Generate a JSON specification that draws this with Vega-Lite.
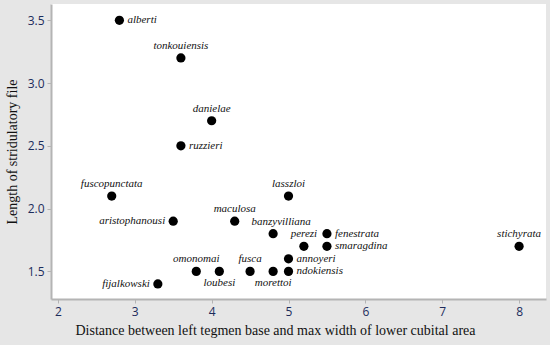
{
  "$schema": "https://vega.github.io/schema/vega-lite/v6.json",
  "width": 495,
  "height": 295,
  "autosize": "none",
  "padding": {"left": 51, "top": 4, "right": 4, "bottom": 46},
  "background": "#e6e6e6",
  "config": {
    "view": {"fill": "white", "stroke": null},
    "axis": {
      "grid": false,
      "domainColor": "#b4b4b4",
      "domainWidth": 2,
      "tickColor": "#b4b4b4",
      "tickSize": 4,
      "labelFont": "Open Sans",
      "labelFontSize": 12,
      "labelColor": "#1c2c5c",
      "titleFont": "Liberation Serif",
      "titleFontSize": 14,
      "titleFontWeight": "normal",
      "titleColor": "#111111"
    }
  },
  "data": {
    "values": [
      {"species": "alberti", "distance": 2.8, "length": 3.5},
      {"species": "tonkouiensis", "distance": 3.6, "length": 3.2},
      {"species": "danielae", "distance": 4.0, "length": 2.7},
      {"species": "ruzzieri", "distance": 3.6, "length": 2.5},
      {"species": "fuscopunctata", "distance": 2.7, "length": 2.1},
      {"species": "aristophanousi", "distance": 3.5, "length": 1.9},
      {"species": "maculosa", "distance": 4.3, "length": 1.9},
      {"species": "banzyvilliana", "distance": 4.8, "length": 1.8},
      {"species": "lasszloi", "distance": 5.0, "length": 2.1},
      {"species": "fenestrata", "distance": 5.5, "length": 1.8},
      {"species": "perezi", "distance": 5.2, "length": 1.7},
      {"species": "smaragdina", "distance": 5.5, "length": 1.7},
      {"species": "annoyeri", "distance": 5.0, "length": 1.6},
      {"species": "ndokiensis", "distance": 5.0, "length": 1.5},
      {"species": "morettoi", "distance": 4.8, "length": 1.5},
      {"species": "fusca", "distance": 4.5, "length": 1.5},
      {"species": "loubesi", "distance": 4.1, "length": 1.5},
      {"species": "omonomai", "distance": 3.8, "length": 1.5},
      {"species": "fijalkowski", "distance": 3.3, "length": 1.4},
      {"species": "stichyrata", "distance": 8.0, "length": 1.7}
    ]
  },
  "encoding": {
    "x": {
      "field": "distance",
      "type": "quantitative",
      "scale": {"domain": [1.91, 8.35], "nice": false, "zero": false},
      "axis": {"values": [2, 3, 4, 5, 6, 7, 8], "title": "Distance between left tegmen base and max width of lower cubital area", "titlePadding": 6, "labelPadding": 3, "titleX": 224, "titleAlign": "center", "titleAnchor": null}
    },
    "y": {
      "field": "length",
      "type": "quantitative",
      "scale": {"domain": [1.28, 3.63], "nice": false, "zero": false},
      "axis": {"values": [1.5, 2.0, 2.5, 3.0, 3.5], "format": ".1f", "title": "Length of stridulatory file", "titlePadding": 8, "labelPadding": 3}
    }
  },
  "layer": [
    {
      "mark": {"type": "circle", "size": 85, "color": "black", "opacity": 1}
    },
    {
      "transform": [{"filter": {"field": "species", "oneOf": ["alberti", "ruzzieri", "fenestrata", "smaragdina", "annoyeri", "ndokiensis"]}}],
      "mark": {"type": "text", "align": "left", "baseline": "middle", "dx": 8, "font": "Liberation Serif", "fontStyle": "italic", "fontSize": 11, "color": "#111111"},
      "encoding": {"text": {"field": "species"}}
    },
    {
      "transform": [{"filter": {"field": "species", "oneOf": ["tonkouiensis", "danielae", "fuscopunctata", "lasszloi", "maculosa", "omonomai", "fusca", "stichyrata", "perezi"]}}],
      "mark": {"type": "text", "align": "center", "baseline": "middle", "dy": -12, "font": "Liberation Serif", "fontStyle": "italic", "fontSize": 11, "color": "#111111"},
      "encoding": {"text": {"field": "species"}}
    },
    {
      "transform": [{"filter": {"field": "species", "oneOf": ["banzyvilliana"]}}],
      "mark": {"type": "text", "align": "center", "baseline": "middle", "dy": -12, "dx": 8, "font": "Liberation Serif", "fontStyle": "italic", "fontSize": 11, "color": "#111111"},
      "encoding": {"text": {"field": "species"}}
    },
    {
      "transform": [{"filter": {"field": "species", "oneOf": ["aristophanousi", "fijalkowski"]}}],
      "mark": {"type": "text", "align": "right", "baseline": "middle", "dx": -8, "font": "Liberation Serif", "fontStyle": "italic", "fontSize": 11, "color": "#111111"},
      "encoding": {"text": {"field": "species"}}
    },
    {
      "transform": [{"filter": {"field": "species", "oneOf": ["loubesi", "morettoi"]}}],
      "mark": {"type": "text", "align": "center", "baseline": "middle", "dy": 12, "font": "Liberation Serif", "fontStyle": "italic", "fontSize": 11, "color": "#111111"},
      "encoding": {"text": {"field": "species"}}
    }
  ]
}
